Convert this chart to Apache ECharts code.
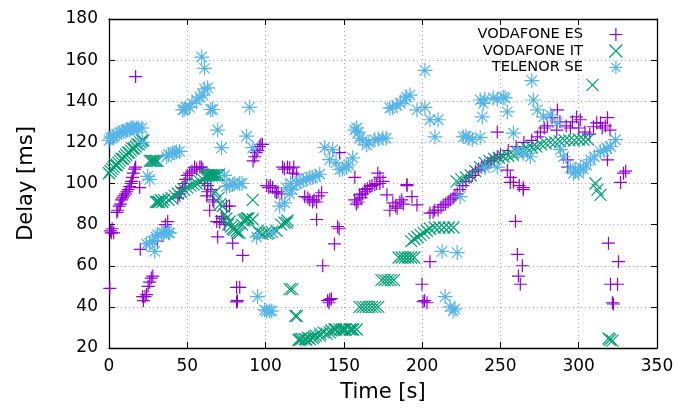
<!DOCTYPE html>
<html><head><meta charset="utf-8">
<script src="https://cdn.jsdelivr.net/npm/echarts@6/dist/echarts.min.js"></script>
<style>html,body{margin:0;padding:0;background:#fff}#c{width:683px;height:409px}</style>
</head><body><div id="c"></div>
<script>
const seriesNames = ['VODAFONE ES', 'VODAFONE IT', 'TELENOR SE'];
const xTicks = [0, 50, 100, 150, 200, 250, 300, 350];
const yTicks = [20, 40, 60, 80, 100, 120, 140, 160, 180];

const vodafoneES = [
 [0.5,49],[1,77],[1.5,76],[2,78],[3,76],
 [5,86],[5.6,87],[6.5,89],[7.3,90],[8,92],[8.7,93],[9.5,94],[10.5,95],[11.3,96],[12.2,97],[13.2,98.5],[14,100],[14.5,101],[15,103],[15.5,105],[16.4,107],[17,108],
 [17,152],[19.6,98],[20,68],
 [21.5,45],[22,43],[23,45],[24,46],[25,50],[26,52],[27,54],[28,55],
 [31,72],[36,80],[37.5,81.5],
 [44,93],[45,95],[46,96],[47,98],[48,100],[49,102],[50,104],[51.5,105],[53,106],[54.7,108],[56,107],[58,108],[59,108],[60,107],
 [61,100],[63,99],[65,97],[62.4,94],[63,96],[64.3,87],[66.2,92],[67,91],[68.8,81.5],[69.4,74],[70.7,81],[72,84],[73,83],[74,80],[75,89],[77,89],[79,71],[85.4,65],
 [81.5,49.5],[83.5,49.5],[81.5,42.4],[82,43],
 [92,111],[93,113],[94,115],[95,116],[96,118],[97,119],[98,119],
 [100.7,99],[102,98],[103,99],[104.5,98],[106,96],[107,95.5],[108,96],[110.3,95],
 [110.9,108],[112,107],[114,108],[115.4,107.6],[117.3,105],[118,108],[119.9,104.5],
 [125,93.6],[127,93],[128.2,92],[130,91],[131,92],[132.6,91],[134,94],[135.8,95.5],
 [132.6,82.5],[146,79],[147,78],[144,70.6],[136.5,60],[139.6,43],[140.5,42],[141,43.5],[142,44],
 [147.3,115],[157,103],[171.7,105],[173,103],[190.3,99],
 [156.9,92],[158,90],[159,91],[160,94.5],[161,93],[162,95],[163.4,97],[164,96],[165,97.5],[166.6,98.6],[168,99],[169.8,99.5],[171,100],[173,100],[175,101],
 [177.5,94.5],[179.4,87],[181.3,90.6],[183,89],[184,88],[185.8,91],[187,92],[188,90],[190.3,99.5],[193.5,93.6],[196.7,89.6],
 [205,85.6],[207,86],[208,87],[210.2,87],[212,88.5],[213.4,89.6],[215,90],[216.6,91],[218,92],[219.8,93],[221,94],[222.4,95],
 [224,97],[226,99],[228,101],[230,103],[232,104],[234,106],[236,107],[238,108],[240,109],[242,110],[244,111],[246,112],[248,113],[250,114],[255,116],[260,118],[265,120],[270,121],[273.6,122.7],[275.5,125],[278,127],[280,128],
 [283,132],[286.4,135.8],[286,126],[288,130],[292,128],[294.7,127],[296,130],[298.6,132.4],[300,127],[301,131],[304,125],[307,124],[309.4,127.6],[311.5,129.5],[313.9,129.5],[315,127],[317,128],[318.4,132],[320,126],
 [248,125],[254.4,106.5],[256.3,103],[258.3,100.6],[262,99],[264.6,98],[292.8,111.5],[293,108],[318.4,111.5],[328.6,105],[330,106],
 [256.3,100.5],[264.6,97],[259.6,81.6],[260.8,65.5],[264,60],[261.5,55],[262.7,51],
 [319,71],[325.4,62],[320.3,51],[324.8,51],[322.2,41.4],[321.5,42],[326.7,100.5],
 [199.9,51],[200.5,42.5],[201.5,43],[203.1,42],[205,62]
];

const vodafoneIT = [
 [0,105],[1,106],[2,107],[3,108],[4,109],[5,109],[6,110],[7,111],[8,112],[9,112],[10,113],[11,114],[12,115],[13,115],[14,116],[15,117],[16,117],[17,118],[18,119],[19,119],[20,120],[21,121],[22,121],
 [26,111],[27,111],[28,111],[29,111],[30,111],[31,111],
 [30,91],[31,91],[32,91],[33,92],[34,91],[35,92],[38,92],[40,93],[42,94],[44,95],[46,96],[48,97],[50,98],[52,99],[54,99.5],[56,100],[58,101],[60,102],[62,103],
 [62,104],[63,104],[64,104],[65,104],[66,104],[67,104],[68,104],[69,104],[70,104],
 [68,96],[70,93],[71,90],[72.6,89],[74,85],[75,83],[76,80],[77,81.5],[78,79],[79,78],[80,77.6],[81.5,77],[82,76],[83.5,76],[85,80],[86,82],[87,82.5],[88,83],[89,83],[91.8,82.5],[91.8,92],
 [95,77],[96,76],[98,75.5],[100,76],[102,76],[104,76.5],[107,77],[110,80],[112,81],[113.5,81],[114,82],
 [115.4,48.6],[117,48.6],[119,35.6],[120,35.5],
 [121,24],[122,24],[123,24.5],[125,24.4],[126,24],[127,25],[128.2,24.4],[130,25],[131,25.5],[132,26],[134.6,26],[135,27],[137,27.6],[139,27],[140.9,27.6],[142,28.5],[144,29],[145,29],[147.3,29],[149,29],[150,29],[151,29],[153.7,29],[155,29],[156,29],[158.2,29],
 [160,40],[162,40],[164,40],[166,40],[168,40],[170,40],[172,40],
 [174,53],[176,53],[178,53],[180,53],[182,53],
 [185,64],[187,64],[189,64],[191,64],[193,64],[195,64],
 [193,72],[195,73],[197,74],[199,75],[201,76],[203,77],[205,78],[208,78.6],[211,78.6],[214,78.6],[217,78.6],[220,78.6],
 [222,101],[225,102],[228,103],[231,104],[234,106],[237,108],[240,110],[243,111],[246,112],[249,112.5],[252,113],[255,113.5],[258,114],[261,115],[264,116],[267,117],[270,117.5],[273,118],[276,119],[279,119.5],[282,120],[285,120],[288,120.5],[291,121],[294,121],[297,121],[300,121.4],[303,121.4],[306,121.4],
 [308.8,148],[310.7,100],[312,97],[313.9,94.5],[319,24.6],[320,24],[321.5,23.6]
];

const telenorSE = [
 [0,121],[1,122],[2,122.5],[3,123],[5,124],[6.8,124.6],[8,125],[9,125.5],[11,126],[12,126],[13.2,126],[14,127],[15,127],[16,127],[17.7,127],[19,127],[21,127],[21.5,120],[24.7,103.5],[26,102],
 [24,70.6],[26,71],[27.9,72],[29.2,67],[30,74],[31,75],[33.7,76],[35,76],[36.8,76.7],[38,76],[38.8,76],
 [36.8,113],[38,114],[40.7,115],[42,115],[43,115.5],[45.1,115.6],
 [47,135.8],[48,136],[49,137],[51.5,137],[53,139],[56,140.6],[58,142],[60,143],[61,146],[63,146.5],[59.2,161.5],[61,156],[65,136],[66.2,136],[69.4,126],[71.9,117.4],[73.8,104],
 [75.1,98.6],[77,99],[78.9,99.5],[80,100],[83.5,100],[85,100],[87.9,123],[89.8,137],[91.8,117.4],[94.3,74],[104.5,76],[109,89],[112.2,90.6],[115.4,95],[117,97],
 [113,98],[116,100],[119.9,100],[122,101],[124,101.5],[126,102],[128.2,103],[130,103],[132,103.5],[134.6,104.5],
 [94.9,45],[99.4,38.5],[100.7,38],[102.6,38],[104,38],
 [137.7,117.5],[140.9,111.6],[142.8,116.5],[145,110],[147.3,106.8],[149,107],[151.8,108],[153,109],[155.6,112.5],[157,126],[158.2,127],[159,125],[160.1,122],[162,121],[164.6,118.8],[166,120],[169.8,121.3],[172,121.5],[174.9,122],[177,122],
 [179.4,136.7],[181,137],[183.9,138],[186,139],[189,140.6],[190,142],[192.2,143],[196.7,135.8],[201.8,137],[201.8,155],[205,131],[210.2,131],[208.2,122.7],
 [226.3,122.7],[228,123],[230,122],[232,121.4],[238.4,132.4],[239,139],[237.1,140.6],[240,141],[245.4,141.6],[248,141],[251.8,142],[253,141.6],[270,150],[271,140.6],[254.4,134.8],[237.1,122.4],[258.3,124.5],
 [273.6,135.8],[277.5,132.4],[281.9,133.4],[286.4,129.5],[260.8,116],[264.6,114.7],[269.1,113],[288.3,116.5],[290.3,113],[294.7,108],[296.7,105],[298,106],[300,105],[301.1,108],[303,107],[305,109],[307.5,111.5],[310,113],[313.9,115.5],[316,116],[318,117],[320.3,118],[323.5,121.3],
 [240.3,107.6],[248,108],[224.3,93.6],[212.7,67],[222.4,66.4],[214.7,45],[217.9,40],[219.8,38],[221,39]
];

const FONT = "'DejaVu Sans',sans-serif";
const plusPath = 'path://M0,5L10,5M5,0L5,10';
const crossPath = 'path://M0,0L10,10M0,10L10,0';
const starPath = 'path://M0,5L10,5M5,0L5,10M1.5,1.5L8.5,8.5M1.5,8.5L8.5,1.5';
const colors = ['#9400D3', '#009E73', '#56B4E9'];
const symbols = [plusPath, crossPath, starPath];
const sizes = [13, 12, 15];
const datas = [vodafoneES, vodafoneIT, telenorSE];

const grid = {left: 109, right: 26, top: 19, bottom: 61};
const chart = echarts.init(document.getElementById('c'), null, {renderer: 'canvas'});
const axisCommon = {
  axisLine: {show: true, onZero: false, lineStyle: {color: '#000', width: 1.3}},
  axisTick: {show: true, inside: true, length: 6, lineStyle: {color: '#000', width: 1}},
};
chart.setOption({
  animation: false,
  backgroundColor: '#fff',
  grid: grid,
  legend: {
    orient: 'vertical', right: 60, top: 27, align: 'right', padding: 0,
    itemWidth: 56, itemHeight: 13, itemGap: 1.5,
    textStyle: {fontFamily: FONT, fontSize: 14.6, color: '#000', lineHeight: 13},
    data: seriesNames.map((n, i) => ({name: n, icon: symbols[i], itemStyle: {color: 'transparent', borderColor: colors[i], borderWidth: 1.2}}))
  },
  xAxis: [
    Object.assign({type: 'value', min: xTicks[0], max: xTicks[xTicks.length-1], interval: 50, position: 'bottom',
      name: 'Time [s]', nameLocation: 'middle', nameGap: 34,
      nameTextStyle: {fontFamily: FONT, fontSize: 21, color: '#000'},
      axisLabel: {fontFamily: FONT, fontSize: 17, color: '#000', margin: 10},
      splitLine: {show: true, lineStyle: {color: '#aaa', type: [1, 3], width: 1}}}, axisCommon),
    Object.assign({type: 'value', min: xTicks[0], max: xTicks[xTicks.length-1], interval: 50, position: 'top',
      axisLabel: {show: false}, splitLine: {show: false}}, axisCommon)
  ],
  yAxis: [
    Object.assign({type: 'value', min: yTicks[0], max: yTicks[yTicks.length-1], interval: 20, position: 'left',
      name: 'Delay [ms]', nameLocation: 'middle', nameGap: 72, nameRotate: 90,
      nameTextStyle: {fontFamily: FONT, fontSize: 21, color: '#000'},
      axisLabel: {fontFamily: FONT, fontSize: 17, color: '#000', margin: 11},
      splitLine: {show: true, lineStyle: {color: '#aaa', type: [1, 3], width: 1}}}, axisCommon),
    Object.assign({type: 'value', min: yTicks[0], max: yTicks[yTicks.length-1], interval: 20, position: 'right',
      axisLabel: {show: false}, splitLine: {show: false}}, axisCommon)
  ],
  series: seriesNames.map((n, i) => ({
    name: n, type: 'scatter', data: datas[i], symbol: symbols[i], symbolSize: sizes[i],
    itemStyle: {color: 'transparent', borderColor: colors[i], borderWidth: 1.2, opacity: 1},
    emphasis: {disabled: true}, z: 2 + i
  }))
});
</script></body></html>
